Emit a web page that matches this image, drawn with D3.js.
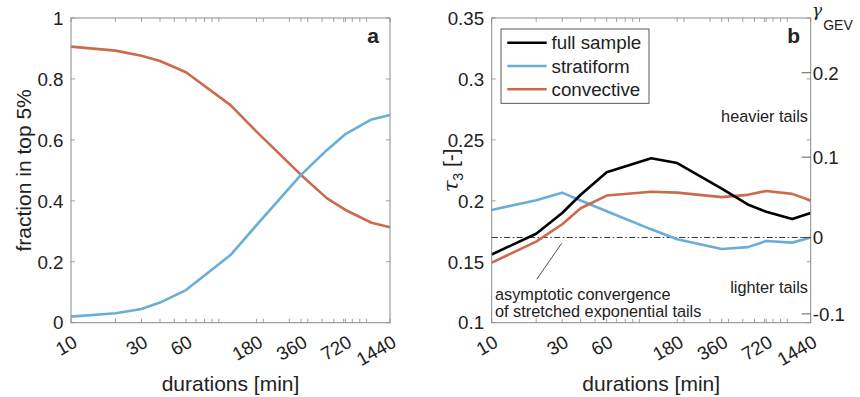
<!DOCTYPE html>
<html>
<head>
<meta charset="utf-8">
<script src="https://cdn.jsdelivr.net/npm/d3@7"></script>
<style>
  html, body { margin: 0; padding: 0; background: #fff; }
  svg { display: block; }
  text { font-family: "Liberation Sans", Arial, Helvetica, sans-serif; fill: #222; }
</style>
</head>
<body>
<svg id="chart" width="860" height="397"></svg>
<script>
// ---------- data ----------
const durations = [10, 20, 30, 40, 60, 120, 180, 360, 540, 720, 1080, 1440];
const xTickLabels = [10, 30, 60, 180, 360, 720, 1440];
const xMinorTicks = [20, 30, 40, 50, 60, 70, 80, 90, 100, 200, 300, 400, 500, 600, 700, 800, 900, 1000];

// panel a: fraction in top 5%
const stratiformA = [0.020, 0.031, 0.045, 0.066, 0.107, 0.222, 0.320, 0.485, 0.567, 0.619, 0.667, 0.682];
const convectiveA = [0.906, 0.893, 0.876, 0.859, 0.822, 0.714, 0.627, 0.485, 0.408, 0.370, 0.328, 0.313];
const yTicksA = [0, 0.2, 0.4, 0.6, 0.8, 1];

// panel b: tau3
const fullB       = [0.156, 0.173, 0.190, 0.205, 0.2235, 0.235, 0.231, 0.210, 0.197, 0.191, 0.185, 0.190];
const stratiformB = [0.1925, 0.2005, 0.2067, 0.2003, 0.1915, 0.1766, 0.1685, 0.1605, 0.162, 0.167, 0.1657, 0.170];
const convectiveB = [0.1493, 0.1665, 0.1808, 0.1939, 0.2043, 0.2075, 0.2067, 0.203, 0.2049, 0.2081, 0.2057, 0.2002];
const yTicksB = [0.1, 0.15, 0.2, 0.25, 0.3, 0.35];
const gammaTicks = [-0.1, 0, 0.1, 0.2];
const gammaLabels = ["-0.1", "0", "0.1", "0.2"];

const legendLabels = ["full sample", "stratiform", "convective"];
const colors = { full: "#000000", strat: "#6aaed6", conv: "#cc6a4e" };

// GEV shape -> L-skewness (used to place the secondary axis ticks)
function gevTau(xi) {
  if (Math.abs(xi) < 1e-9) return 2 * Math.log(3) / Math.log(2) - 3;
  const k = -xi;
  return 2 * (1 - Math.pow(3, -k)) / (1 - Math.pow(2, -k)) - 3;
}

// ---------- layout ----------
const svg = d3.select("#chart");
const pTop = 18, pBottom = 322.7;
const fontTick = 18.8, fontLabel = 21;
const spine = "#8a8a8a";

function drawXAxis(g, x) {
  const all = Array.from(new Set(xMinorTicks.concat(xTickLabels, [10]))).sort((a, b) => a - b);
  const tl = 4;
  g.append("g").selectAll("line").data(all).join("line")
    .attr("x1", d => x(d)).attr("x2", d => x(d))
    .attr("y1", pBottom).attr("y2", pBottom - tl)
    .attr("stroke", spine).attr("stroke-width", 0.8);
  g.append("g").selectAll("line").data(all).join("line")
    .attr("x1", d => x(d)).attr("x2", d => x(d))
    .attr("y1", pTop).attr("y2", pTop + tl)
    .attr("stroke", spine).attr("stroke-width", 0.8);
  g.append("g").selectAll("text").data(xTickLabels).join("text")
    .attr("transform", d => `translate(${x(d) + 7.5},${pBottom + 23}) rotate(-30)`)
    .attr("text-anchor", "end")
    .attr("font-size", fontTick)
    .text(d => d);
  const [x0, x1] = x.range();
  g.append("text")
    .attr("x", (x0 + x1) / 2).attr("y", 391)
    .attr("text-anchor", "middle").attr("font-size", fontLabel)
    .text("durations [min]");
}

function drawYTicks(g, y, ticks, x0, x1, fmt) {
  const tl = 4;
  g.append("g").selectAll("line").data(ticks).join("line")
    .attr("x1", x0).attr("x2", x0 + tl).attr("y1", d => y(d)).attr("y2", d => y(d))
    .attr("stroke", spine).attr("stroke-width", 0.8);
  g.append("g").selectAll("line").data(ticks).join("line")
    .attr("x1", x1).attr("x2", x1 - tl).attr("y1", d => y(d)).attr("y2", d => y(d))
    .attr("stroke", spine).attr("stroke-width", 0.8);
  g.append("g").selectAll("text").data(ticks).join("text")
    .attr("x", x0 - 7.5).attr("y", d => y(d)).attr("dy", "0.36em")
    .attr("text-anchor", "end").attr("font-size", fontTick)
    .text(fmt);
}

function drawBox(g, x0, x1) {
  g.append("rect").attr("x", x0).attr("y", pTop).attr("width", x1 - x0).attr("height", pBottom - pTop)
    .attr("fill", "none").attr("stroke", spine).attr("stroke-width", 1);
}

function drawLine(g, x, y, vals, color) {
  const line = d3.line().x((d, i) => x(durations[i])).y(d => y(d));
  g.append("path").datum(vals).attr("d", line)
    .attr("fill", "none").attr("stroke", color).attr("stroke-width", 2.6)
    .attr("stroke-linejoin", "round").attr("stroke-linecap", "butt");
}

// ---------- panel a ----------
{
  const L = 71, R = 390;
  const g = svg.append("g");
  const x = d3.scaleLog().domain([10, 1440]).range([L, R]);
  const y = d3.scaleLinear().domain([0, 1]).range([pBottom, pTop]);
  drawLine(g, x, y, convectiveA, colors.conv);
  drawLine(g, x, y, stratiformA, colors.strat);
  drawBox(g, L, R);
  drawXAxis(g, x);
  drawYTicks(g, y, yTicksA, L, R, d => d3.format("~g")(d));
  g.append("text")
    .attr("transform", `translate(31,${(pTop + pBottom) / 2}) rotate(-90)`)
    .attr("text-anchor", "middle").attr("font-size", fontLabel)
    .text("fraction in top 5%");
  g.append("text").attr("x", 379).attr("y", 42.5).attr("text-anchor", "end")
    .attr("font-size", 21).attr("font-weight", "bold").text("a");
}

// ---------- panel b ----------
{
  const L = 491.7, R = 810.7;
  const g = svg.append("g");
  const x = d3.scaleLog().domain([10, 1440]).range([L, R]);
  const y = d3.scaleLinear().domain([0.1, 0.35]).range([pBottom, pTop]);

  g.append("line").attr("x1", L).attr("x2", R)
    .attr("y1", y(gevTau(0))).attr("y2", y(gevTau(0)))
    .attr("stroke", "#000").attr("stroke-width", 0.8)
    .attr("stroke-dasharray", "6,2.5,1.5,2.5");

  drawLine(g, x, y, stratiformB, colors.strat);
  drawLine(g, x, y, convectiveB, colors.conv);
  drawLine(g, x, y, fullB, colors.full);
  drawBox(g, L, R);
  drawXAxis(g, x);
  drawYTicks(g, y, yTicksB, L, R, d => d3.format(".2~f")(d));

  const gy = g.append("g");
  gy.selectAll("line").data(gammaTicks).join("line")
    .attr("x1", R).attr("x2", R - 9)
    .attr("y1", d => y(gevTau(d))).attr("y2", d => y(gevTau(d)))
    .attr("stroke", "#333").attr("stroke-width", 0.8);
  gy.selectAll("text").data(gammaTicks).join("text")
    .attr("x", R + 2).attr("y", d => y(gevTau(d))).attr("dy", "0.36em")
    .attr("font-size", fontTick)
    .text((d, i) => gammaLabels[i]);

  const gl = g.append("text").attr("x", 812).attr("y", 16);
  gl.append("tspan").attr("font-family", "'DejaVu Serif', serif").attr("font-style", "italic")
    .attr("font-size", 17).text("γ");
  gl.append("tspan").attr("dy", 14).attr("dx", 1).attr("font-size", 14).text("GEV");

  const tl = g.append("text")
    .attr("transform", `translate(458,${(pTop + pBottom) / 2}) rotate(-90)`)
    .attr("text-anchor", "middle").attr("font-size", fontLabel);
  tl.append("tspan").attr("font-family", "'DejaVu Serif', serif").attr("font-style", "italic").text("τ");
  tl.append("tspan").attr("font-size", 14).attr("dy", 5).text("3");
  tl.append("tspan").attr("dy", -5).text(" [-]");

  g.append("text").attr("x", 800).attr("y", 43).attr("text-anchor", "end")
    .attr("font-size", 21).attr("font-weight", "bold").text("b");

  g.append("text").attr("x", 808).attr("y", 122).attr("text-anchor", "end")
    .attr("font-size", 16.3).text("heavier tails");
  g.append("text").attr("x", 808).attr("y", 293).attr("text-anchor", "end")
    .attr("font-size", 16.3).text("lighter tails");

  g.append("line").attr("x1", 536.7).attr("y1", 279.3).attr("x2", 561.7).attr("y2", 243.3)
    .attr("stroke", "#000").attr("stroke-width", 0.7);
  g.append("text").attr("x", 495).attr("y", 299.5).attr("font-size", 16.3).text("asymptotic convergence");
  g.append("text").attr("x", 495).attr("y", 316.5).attr("font-size", 16.3).text("of stretched exponential tails");

  const lg = g.append("g");
  lg.append("rect").attr("x", 501).attr("y", 29).attr("width", 148).attr("height", 74.3)
    .attr("fill", "#fff").attr("stroke", "#333").attr("stroke-width", 0.8);
  const lc = [colors.full, colors.strat, colors.conv];
  legendLabels.forEach((t, i) => {
    const yy = 42.7 + i * 23.3;
    lg.append("line").attr("x1", 507.3).attr("x2", 546.7).attr("y1", yy).attr("y2", yy)
      .attr("stroke", lc[i]).attr("stroke-width", 2.6);
    lg.append("text").attr("x", 551.5).attr("y", yy).attr("dy", "0.36em")
      .attr("font-size", fontTick).text(t);
  });
}
</script>
</body>
</html>
